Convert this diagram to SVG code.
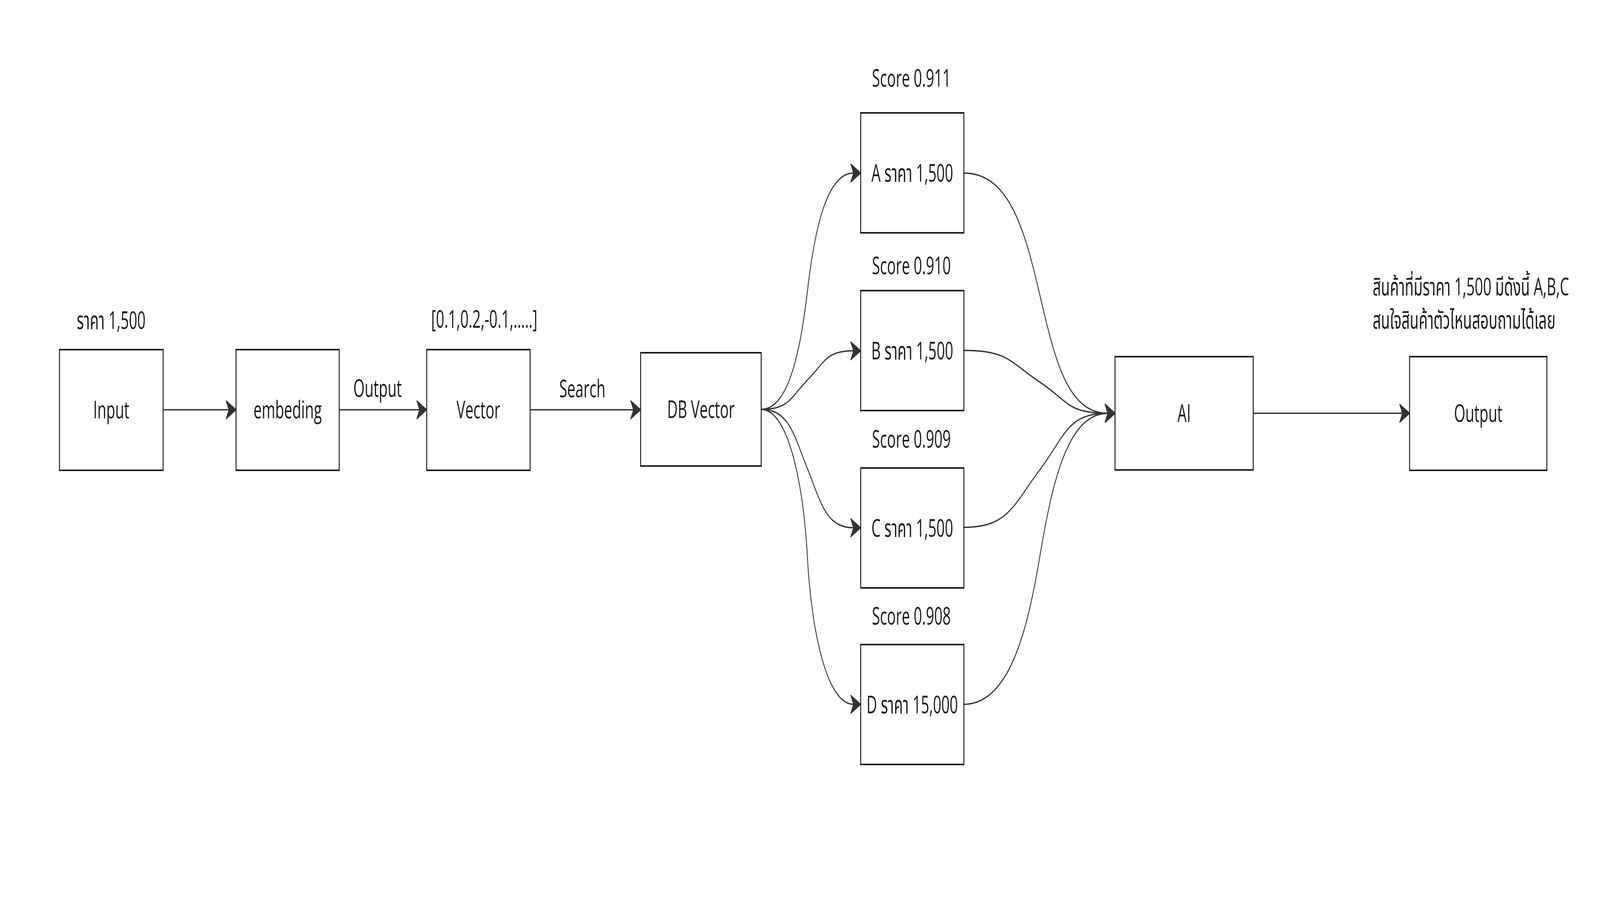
<svg xmlns="http://www.w3.org/2000/svg" width="6806" height="2350" viewBox="0 0 6806 2350" preserveAspectRatio="none">
<style>
svg:root{width:100vw;height:100vh;display:block}
.box{fill:#ffffff;stroke:#1a1a1a;stroke-width:4}
.t{font-family:"Open Sans","Noto Sans","Noto Sans Thai","Noto Sans Thai UI",sans-serif;font-size:62px;fill:#1a1a1a;text-anchor:middle}
.tl{text-anchor:start}
.c{fill:none;stroke:#333333;stroke-width:3.5;marker-end:url(#ah)}
</style>
<defs>
<marker id="ah" markerUnits="userSpaceOnUse" viewBox="-48 -30 54 60" markerWidth="54" markerHeight="60" refX="-30" refY="0" orient="auto">
<path d="M0,0 L-42,-23 L-30,0 L-42,23 Z" fill="#333333" stroke="#333333" stroke-width="3" stroke-linejoin="round"/>
</marker>
</defs>
<rect x="0" y="0" width="6806" height="2350" fill="#ffffff"/>
<g id="connectors">
<path class="c" d="M694,1049 L974,1049"/>
<path class="c" d="M1443,1049 L1785,1049"/>
<path class="c" d="M2255,1049 L2695,1049"/>
<path class="c" d="M5331,1058 L5966,1058"/>
<path class="c" d="M3238,1048 C3356,1048 3406,893.5 3434.5,745.5 S3513,443 3631,443"/>
<path class="c" d="M3238,1048 C3356,1048 3359.7,1019.4 3434.5,973 S3513,898 3631,898"/>
<path class="c" d="M3238,1048 C3356,1048 3376.8,1113 3434.5,1199.5 S3513,1351 3631,1351"/>
<path class="c" d="M3238,1048 C3356,1048 3419,1247.2 3434.5,1425.5 S3513,1803 3631,1803"/>
<path class="c" d="M4100,443 C4290,443 4357.2,584.5 4421.5,750.5 S4538,1058 4713,1058"/>
<path class="c" d="M4100,897 C4290,897 4297.9,928.3 4421.5,977.5 S4538,1058 4713,1058"/>
<path class="c" d="M4100,1350 C4290,1350 4311.4,1292 4421.5,1204 S4538,1058 4713,1058"/>
<path class="c" d="M4100,1803 C4290,1803 4368.5,1620.2 4421.5,1430.5 S4538,1058 4713,1058"/>
<text class="t" x="1606" y="1016">Output</text>
<text class="t" x="2477" y="1017">Search</text>
</g>
<g id="input">
<rect class="box" x="253" y="895" width="441" height="309"/>
<text class="t" x="473.5" y="1071">Input</text>
<text class="t" x="473" y="842">ราคา 1,500</text>
</g>
<g id="embeding">
<rect class="box" x="1004" y="895" width="439" height="309"/>
<text class="t" x="1223.5" y="1071">embeding</text>
</g>
<g id="vector">
<rect class="box" x="1815" y="895" width="440" height="309"/>
<text class="t" x="2035" y="1071">Vector</text>
<text class="t" x="2060" y="839">[0.1,0.2,-0.1,.....]</text>
</g>
<g id="dbvector">
<rect class="box" x="2725" y="903" width="513" height="290"/>
<text class="t" x="2981.5" y="1070">DB Vector</text>
</g>
<g id="itemA">
<rect class="box" x="3661" y="289" width="439" height="307"/>
<text class="t" x="3880.5" y="465">A ราคา 1,500</text>
<text class="t" x="3877" y="222">Score 0.911</text>
</g>
<g id="itemB">
<rect class="box" x="3661" y="744" width="439" height="307"/>
<text class="t" x="3880.5" y="920">B ราคา 1,500</text>
<text class="t" x="3877" y="702">Score 0.910</text>
</g>
<g id="itemC">
<rect class="box" x="3661" y="1198" width="439" height="307"/>
<text class="t" x="3880.5" y="1374">C ราคา 1,500</text>
<text class="t" x="3877" y="1146">Score 0.909</text>
</g>
<g id="itemD">
<rect class="box" x="3661" y="1650" width="439" height="307"/>
<text class="t" x="3880.5" y="1826">D ราคา 15,000</text>
<text class="t" x="3877" y="1599">Score 0.908</text>
</g>
<g id="ai">
<rect class="box" x="4743" y="913" width="588" height="290"/>
<text class="t" x="5037" y="1080">AI</text>
</g>
<g id="output">
<rect class="box" x="5996" y="913" width="584" height="291"/>
<text class="t" x="6288" y="1080">Output</text>
<text class="t tl" x="5839" y="756">สินค้าที่มีราคา 1,500 มีดังนี้ A,B,C</text>
<text class="t tl" x="5839" y="841">สนใจสินค้าตัวไหนสอบถามได้เลย</text>
</g>
</svg>
